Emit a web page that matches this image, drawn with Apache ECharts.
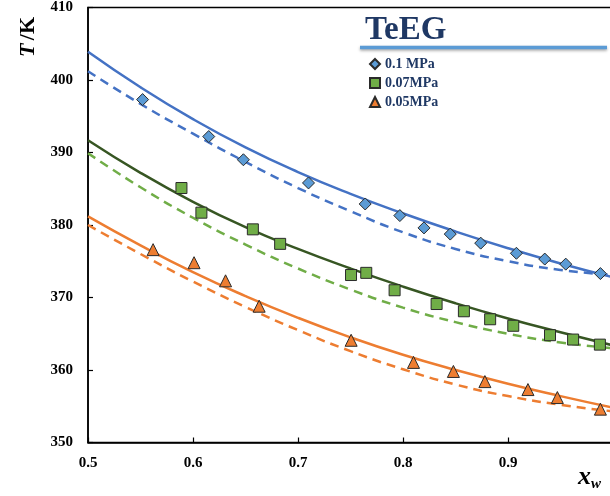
<!DOCTYPE html>
<html>
<head>
<meta charset="utf-8">
<script src="https://cdn.jsdelivr.net/npm/echarts@6/dist/echarts.min.js"></script>
<style>
html,body{margin:0;padding:0;background:#fff;}
#chart{width:610px;height:496px;}
</style>
</head>
<body>
<div id="chart"></div>
<script>
// ---- data ----
const xTicks = [0.5, 0.6, 0.7, 0.8, 0.9, 1.0];
const yTicks = [350, 360, 370, 380, 390, 400, 410];
const seriesNames = ['0.1 MPa', '0.07MPa', '0.05MPa'];

const xCurve     = [0.50, 0.55, 0.60, 0.65, 0.70, 0.75, 0.80, 0.85, 0.90, 0.95, 1.00];
const blueSolid  = [403.9, 399.0, 394.6, 390.7, 387.3, 384.3, 381.6, 379.1, 376.8, 374.7, 372.8];
const blueDash   = [401.2, 396.7, 392.6, 388.7, 385.1, 381.9, 379.0, 376.7, 375.0, 373.8, 373.1];
const greenSolid = [391.7, 387.2, 383.2, 379.7, 376.7, 374.0, 371.5, 369.2, 367.1, 365.2, 363.4];
const greenDash  = [389.9, 385.2, 381.0, 377.3, 374.0, 371.1, 368.6, 366.6, 365.0, 363.8, 363.0];
const orangeSolid= [381.2, 377.2, 373.5, 370.2, 367.2, 364.5, 362.1, 360.0, 358.1, 356.4, 354.8];
const orangeDash = [380.0, 376.0, 372.2, 368.7, 365.5, 362.6, 360.1, 358.0, 356.4, 355.2, 354.3];

const blueX   = [0.552, 0.615, 0.648, 0.710, 0.764, 0.797, 0.820, 0.845, 0.874, 0.908, 0.935, 0.955, 0.988];
const blueY   = [397.3, 392.2, 389.0, 385.8, 382.9, 381.3, 379.6, 378.75, 377.5, 376.1, 375.3, 374.6, 373.3];
const greenX  = [0.589, 0.608, 0.657, 0.683, 0.7505, 0.765, 0.792, 0.832, 0.858, 0.883, 0.905, 0.940, 0.962, 0.9875];
const greenY  = [385.1, 381.7, 379.4, 377.4, 373.1, 373.4, 371.0, 369.1, 368.1, 367.0, 366.1, 364.8, 364.2, 363.5];
const orangeX = [0.562, 0.601, 0.631, 0.663, 0.7506, 0.810, 0.848, 0.878, 0.919, 0.947, 0.988];
const orangeY = [376.6, 374.8, 372.3, 368.8, 364.1, 361.05, 359.8, 358.4, 357.3, 356.2, 354.6];

// ---- build ----
const zip = (xs, ys) => xs.map((x, i) => [x, ys[i]]);
const FONT = 'Liberation Serif';
const C = {
  blue: '#4472C4', blueM: '#5B9BD5',
  greenDark: '#375623', green: '#70AD47',
  orange: '#ED7D31', navy: '#1F3864'
};

function lineSeries(ys, color, dashed) {
  return {
    type: 'line', data: zip(xCurve, ys), smooth: 0.5, showSymbol: false,
    silent: true, z: 2,
    lineStyle: { color: color, width: 2.5, type: dashed ? [9, 6] : 'solid' }
  };
}
function markerSeries(name, xs, ys, symbol, size, color) {
  return {
    name: name, type: 'scatter', data: zip(xs, ys), symbol: symbol, symbolSize: size, z: 5,
    itemStyle: { color: color, borderColor: '#2a2a2a', borderWidth: 1, opacity: 1 }
  };
}

const chart = echarts.init(document.getElementById('chart'), null, { renderer: 'canvas' });
chart.setOption({
  animation: false,
  backgroundColor: '#fff',
  title: {
    text: 'TeEG', left: 360, top: 9,
    textStyle: { fontFamily: FONT, fontSize: 33, fontWeight: 'bold', color: C.navy }
  },
  legend: {
    data: seriesNames, orient: 'vertical', left: 364, top: 52,
    itemWidth: 10, itemHeight: 10, itemGap: 5,
    textStyle: { fontFamily: FONT, fontSize: 14, fontWeight: 'bold', color: C.navy }
  },
  grid: {
    left: 88, top: 7.5, width: 525, height: 435,
    outerBoundsMode: 'none', containLabel: false,
    show: true, borderColor: '#000', borderWidth: 1.5, backgroundColor: 'transparent'
  },
  xAxis: {
    type: 'value', min: xTicks[0], max: xTicks[xTicks.length - 1], interval: 0.1,
    axisLine: { show: true, lineStyle: { color: '#000', width: 1.5 } },
    axisTick: { show: true, inside: true, length: 5, lineStyle: { color: '#000', width: 1.2 } },
    splitLine: { show: false },
    axisLabel: {
      margin: 13, fontFamily: FONT, fontSize: 15, fontWeight: 'bold', color: '#000',
      formatter: v => (Math.abs(v - 1.0) < 1e-9 ? '' : String(Math.round(v * 10) / 10))
    }
  },
  yAxis: {
    type: 'value', min: yTicks[0], max: yTicks[yTicks.length - 1], interval: 10,
    axisLine: { show: true, lineStyle: { color: '#000', width: 1.5 } },
    axisTick: { show: true, inside: true, length: 5, lineStyle: { color: '#000', width: 1.2 } },
    splitLine: { show: false },
    axisLabel: { margin: 15, fontFamily: FONT, fontSize: 15, fontWeight: 'bold', color: '#000' }
  },
  graphic: [
    {
      type: 'line', z: 10,
      shape: { x1: 360, y1: 47.5, x2: 607, y2: 47.5 },
      style: { stroke: '#5B9BD5', lineWidth: 3.5, shadowColor: 'rgba(0,0,0,0.35)', shadowBlur: 3, shadowOffsetY: 1.5 }
    },
    {
      type: 'text', x: 17, y: 57, rotation: Math.PI / 2, z: 10,
      style: {
        text: '{i|T} {n|/K}', fill: '#000',
        rich: {
          i: { fontFamily: FONT, fontSize: 22, fontWeight: 'bold', fontStyle: 'italic', fill: '#000' },
          n: { fontFamily: FONT, fontSize: 22, fontWeight: 'bold', fill: '#000' }
        }
      }
    },
    {
      type: 'text', x: 578, y: 463, z: 10,
      style: {
        text: '{x|x}{w|w}', fill: '#000',
        rich: {
          x: { fontFamily: FONT, fontSize: 26, fontWeight: 'bold', fontStyle: 'italic', fill: '#000' },
          w: { fontFamily: FONT, fontSize: 15, fontWeight: 'bold', fontStyle: 'italic', fill: '#000', padding: [14, 0, 0, 0] }
        }
      }
    }
  ],
  series: [
    lineSeries(blueSolid, C.blue, false),
    lineSeries(blueDash, C.blue, true),
    lineSeries(greenSolid, C.greenDark, false),
    lineSeries(greenDash, C.green, true),
    lineSeries(orangeSolid, C.orange, false),
    lineSeries(orangeDash, C.orange, true),
    markerSeries(seriesNames[0], blueX, blueY, 'diamond', 12, C.blueM),
    markerSeries(seriesNames[1], greenX, greenY, 'rect', 11, C.green),
    markerSeries(seriesNames[2], orangeX, orangeY, 'triangle', 12, C.orange)
  ]
});
</script>
</body>
</html>
